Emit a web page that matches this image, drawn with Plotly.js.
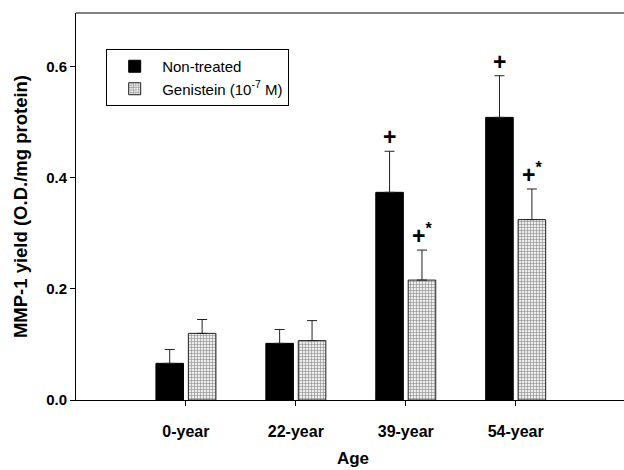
<!DOCTYPE html>
<html>
<head>
<meta charset="utf-8">
<script src="https://cdn.plot.ly/plotly-3.0.1.min.js"></script>
<style>html,body{margin:0;padding:0;background:#fff;overflow:hidden;}#wrap{width:624px;height:470px;overflow:hidden;}#chart{width:630px;height:470px;}</style>
</head>
<body>
<div id="wrap"><div id="chart"></div></div>
<script>
// ---- data ----
var ages = ['0-year', '22-year', '39-year', '54-year'];
var nonTreated = [0.066, 0.102, 0.374, 0.509];
var nonTreatedErr = [0.025, 0.025, 0.074, 0.075];
var genistein = [0.120, 0.107, 0.216, 0.325];
var genisteinErr = [0.025, 0.036, 0.054, 0.055];
var nonTreatedMarks = ['', '', '+', '+'];
var genisteinMarks = ['', '', '+*', '+*'];
var yTicks = [0, 0.2, 0.4, 0.6];
var seriesNames = ['Non-treated', 'Genistein (10<sup>-7</sup> M)'];

var FONT = 'Liberation Sans, Arial, sans-serif';
var zeros = ages.map(function(){ return 0; });

var traces = [
  {
    type: 'bar', name: seriesNames[0], x: ages, y: nonTreated,
    marker: {color: '#000000', line: {color: '#000000', width: 1}},
    error_y: {type: 'data', symmetric: false, array: nonTreatedErr, arrayminus: zeros,
              color: '#222222', thickness: 1, width: 5}
  },
  {
    type: 'bar', name: seriesNames[1], x: ages, y: genistein,
    marker: {color: '#e6e6e6', line: {color: '#222222', width: 1},
             pattern: {shape: '+', fgcolor: '#8a8a8a', bgcolor: '#ececec', size: 3, solidity: 0.35}},
    error_y: {type: 'data', symmetric: false, array: genisteinErr, arrayminus: zeros,
              color: '#222222', thickness: 1, width: 5}
  }
];

var bargap = 0.41;
var off = (1 - bargap) / 4;
var annotations = [];
function addMarks(vals, errs, marks, dx) {
  for (var i = 0; i < vals.length; i++) {
    if (!marks[i]) continue;
    var t = marks[i] === '+*' ? '<b>+</b><b><sup>*</sup></b>' : '<b>+</b>';
    annotations.push({
      xref: 'x', yref: 'y', x: i + dx, y: vals[i] + errs[i],
      text: t, showarrow: false, yanchor: 'bottom', xanchor: 'center', yshift: -1,
      font: {family: FONT, size: 23, color: '#000'}
    });
  }
}
addMarks(nonTreated, nonTreatedErr, nonTreatedMarks, -off);
addMarks(genistein, genisteinErr, genisteinMarks, off);

annotations.push({
  xref: 'paper', yref: 'paper', x: -0.1, y: 0.5, xanchor: 'center', yanchor: 'middle',
  text: '<b>MMP-1 yield (O.D./mg protein)</b>', textangle: -90, showarrow: false,
  font: {family: FONT, size: 18.5, color: '#000'}
});

var layout = {
  width: 630, height: 470,
  margin: {l: 76, r: 0, t: 13, b: 70},
  paper_bgcolor: '#fff', plot_bgcolor: '#fff',
  barmode: 'group', bargap: bargap, bargroupgap: 0.15,
  showlegend: true,
  legend: {
    x: 0.0545, y: 0.907, xanchor: 'left', yanchor: 'top',
    bordercolor: '#000', borderwidth: 1, bgcolor: '#fff',
    font: {family: FONT, size: 15, color: '#000'},
    itemwidth: 45, traceorder: 'normal'
  },
  xaxis: {
    type: 'category', range: [-1, 4.04],
    showline: true, linecolor: '#000', linewidth: 1, mirror: false,
    ticks: 'outside', ticklen: 5, tickcolor: '#000', ticklabelstandoff: 12,
    tickfont: {family: FONT, size: 16, color: '#000', weight: 'bold'},
    showgrid: false, zeroline: false,
    title: {text: '<b>Age</b>', font: {family: FONT, size: 17, color: '#000'}, standoff: 12}
  },
  yaxis: {
    range: [0, 0.697], tickvals: yTicks, tickformat: '.1f',
    showline: true, linecolor: '#000', linewidth: 1, mirror: false,
    ticks: 'outside', ticklen: 5, tickcolor: '#000',
    tickfont: {family: FONT, size: 15, color: '#000', weight: 'bold'},
    showgrid: false, zeroline: false
  },
  shapes: [
    {type: 'line', xref: 'paper', yref: 'paper', x0: 0, x1: 1, y0: 1, y1: 1,
     line: {color: '#000', width: 1}}
  ],
  annotations: annotations
};

Plotly.newPlot('chart', traces, layout, {displayModeBar: false, staticPlot: true});
</script>
</body>
</html>
